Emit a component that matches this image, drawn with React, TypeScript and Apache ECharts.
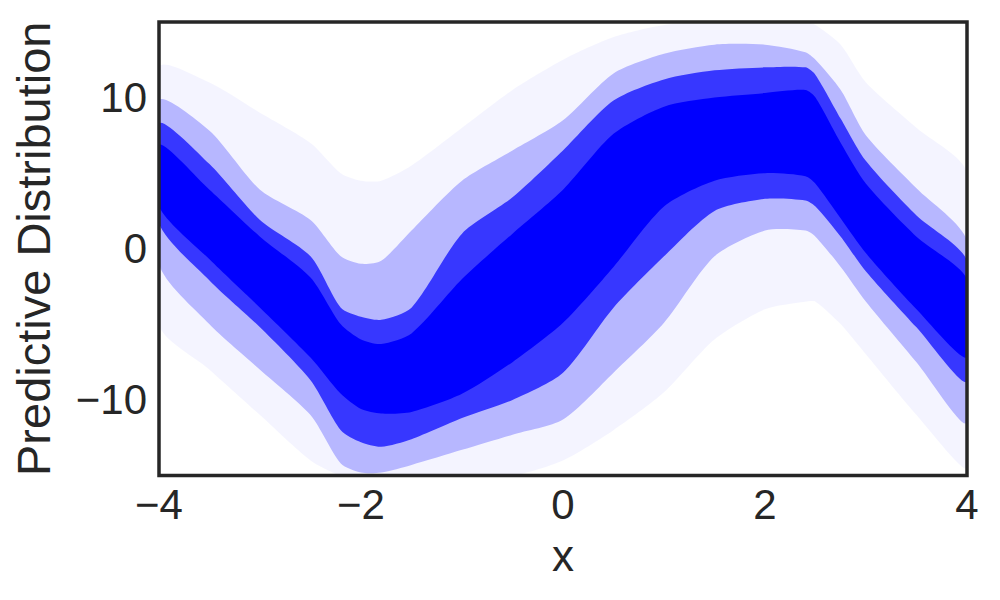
import React, { useEffect, useRef } from "react";
import * as echarts from "echarts";

// x positions where the band edges were read
const xs = [-4, -3.5, -3, -2.5, -2.2, -2, -1.8, -1.5, -1, -0.5, 0, 0.5, 1, 1.5, 2, 2.4, 2.5, 2.75, 3, 3.5, 4];
// dense (solid) core of the predictive samples
const coreUpper = [6.9, 3.9, 0.8, -1.9, -5.0, -6.0, -6.3, -5.6, -2.0, 1.0, 3.9, 7.6, 9.4, 10.0, 10.3, 10.5, 10.0, 7.0, 4.3, 0.8, -2.0];
const coreLower = [2.8, -0.7, -3.9, -7.2, -9.6, -10.6, -10.9, -10.8, -9.6, -7.5, -4.9, -1.2, 2.8, 4.5, 5.0, 4.8, 4.3, 2.0, -0.3, -4.0, -7.2];
// medium density region
const midUpper = [8.3, 5.6, 1.9, -0.5, -3.9, -4.5, -4.7, -3.9, 1.0, 3.4, 6.5, 9.8, 11.2, 11.8, 12.0, 12.0, 11.5, 8.6, 5.8, 2.2, -0.8];
const midLower = [1.7, -2.1, -5.2, -8.7, -12, -12.8, -13.1, -12.6, -11.2, -10, -8.2, -3.9, -0.5, 2.5, 3.3, 3.2, 2.8, 0.8, -1.5, -5.2, -8.8];
// light speckled region
const outerUpper = [9.8, 7.8, 3.9, 1.9, -0.5, -1.0, -0.8, 1.2, 4.5, 6.5, 8.5, 11.6, 12.9, 13.5, 13.5, 13.0, 12.5, 10.5, 7.5, 4.0, 0.5];
const outerLower = [-1.0, -5.0, -8.0, -11.0, -14.2, -14.8, -14.8, -14.3, -13.3, -12.3, -11.3, -8.2, -4.9, -0.5, 1.2, 1.2, 0.8, -1.2, -3.5, -7.5, -11.5];
// very sparse tail
const farUpper = [12, 11, 9, 7, 5, 4.5, 4.5, 5.5, 8, 10.5, 12.5, 14, 14.8, 15, 15, 15, 14.8, 13.5, 11, 8, 5];
const farLower = [-5, -8, -11, -14, -15, -15, -15, -15, -15, -15, -14, -12, -9.5, -6, -4, -3.5, -3.5, -5, -7, -11, -14.5];

const xTicks = [-4, -2, 0, 2, 4];
const yShown = [-10, 0, 10];

const FONT = "'Liberation Sans', Arial, sans-serif";
const TEXT = "#262626";
const GRID = { left: 159, top: 22, right: 33, bottom: 124.5 };

function fmt(v: number) {
  return v < 0 ? "\u2212" + Math.abs(v) : String(v);
}

function band(name: string, lower: number[], upper: number[], color: string, z: number) {
  return {
    type: "custom",
    name,
    z,
    silent: true,
    clip: true,
    data: xs.map((x, i) => [x, lower[i], upper[i]]),
    renderItem: (params: any, api: any) => {
      if (params.dataIndex !== 0) return null;
      const top = xs.map((x, i) => api.coord([x, upper[i]]));
      const bottom = xs.map((x, i) => api.coord([x, lower[i]])).reverse();
      const cs = params.coordSys;
      return {
        type: "polygon",
        shape: {
          points: top.concat(bottom),
          smooth: 0.25,
          smoothConstraint: [
            [cs.x, cs.y],
            [cs.x + cs.width, cs.y + cs.height],
          ],
        },
        style: { fill: color, stroke: "none" },
      };
    },
  };
}

export default function App() {
  const ref = useRef<HTMLDivElement>(null);
  useEffect(() => {
    if (!ref.current) return;
    const chart = echarts.init(ref.current, null, { renderer: "svg" });
    const w = 1000 - GRID.left - GRID.right;
    const h = 600 - GRID.top - GRID.bottom;
    chart.setOption({
      animation: false,
      backgroundColor: "#ffffff",
      grid: { ...GRID },
      xAxis: {
        type: "value",
        min: -4,
        max: 4,
        interval: 2,
        axisLine: { show: false },
        axisTick: { show: false },
        splitLine: { show: false },
        axisLabel: {
          fontSize: 42,
          color: TEXT,
          fontFamily: FONT,
          margin: 8,
          formatter: (v: number) => (xTicks.includes(v) ? fmt(v) : ""),
        },
        name: "x",
        nameLocation: "middle",
        nameGap: 58,
        nameTextStyle: { fontSize: 44, color: TEXT, fontFamily: FONT },
      },
      yAxis: {
        type: "value",
        min: -15,
        max: 15,
        interval: 5,
        axisLine: { show: false },
        axisTick: { show: false },
        splitLine: { show: false },
        axisLabel: {
          fontSize: 42,
          color: TEXT,
          fontFamily: FONT,
          margin: 12,
          formatter: (v: number) => (yShown.includes(v) ? fmt(v) : ""),
        },
        name: "Predictive Distribution",
        nameLocation: "middle",
        nameGap: 102,
        nameTextStyle: { fontSize: 47, color: TEXT, fontFamily: FONT },
      },
      graphic: [
        {
          type: "rect",
          shape: { x: GRID.left, y: GRID.top, width: w, height: h },
          style: { fill: "none", stroke: TEXT, lineWidth: 3.5 },
          z: 100,
          silent: true,
        },
      ],
      series: [
        band("far", farLower, farUpper, "rgba(0,0,255,0.045)", 1),
        band("outer", outerLower, outerUpper, "rgba(0,0,255,0.25)", 2),
        band("mid", midLower, midUpper, "rgba(0,0,255,0.7)", 3),
        band("core", coreLower, coreUpper, "#0000ff", 4),
      ],
    });
    return () => chart.dispose();
  }, []);
  return (
    <div
      ref={ref}
      style={{ position: "fixed", left: 0, top: 0, width: 1000, height: 600, background: "#fff" }}
    />
  );
}
